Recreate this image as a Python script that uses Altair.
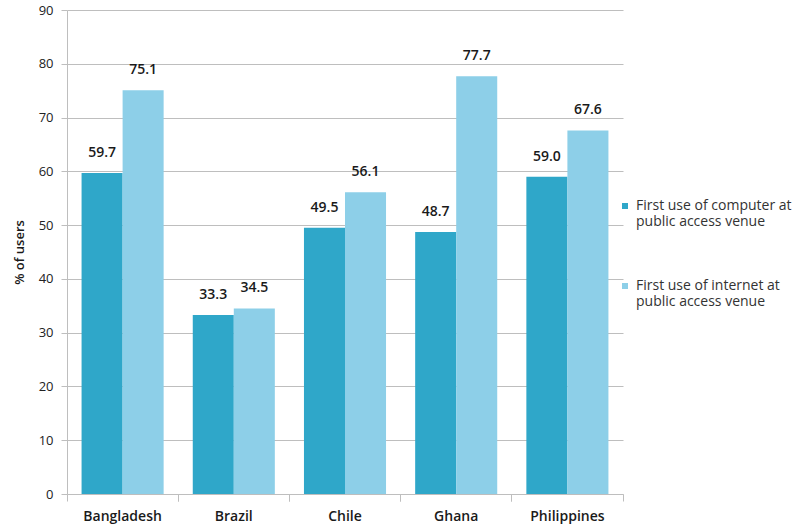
import altair as alt
import pandas as pd

countries = ["Bangladesh", "Brazil", "Chile", "Ghana", "Philippines"]
computer_first = [59.7, 33.3, 49.5, 48.7, 59.0]
internet_first = [75.1, 34.5, 56.1, 77.7, 67.6]
series_names = [
    "First use of computer at public access venue",
    "First use of internet at public access venue",
]
series_colors = ["#2FA7C9", "#8DCFE8"]
y_ticks = [0, 10, 20, 30, 40, 50, 60, 70, 80, 90]

rows = []
for i, c in enumerate(countries):
    rows.append({"country": c, "series": series_names[0], "value": computer_first[i]})
    rows.append({"country": c, "series": series_names[1], "value": internet_first[i]})
df = pd.DataFrame(rows)

FONT = "Open Sans"
GRID = "#BEBEBE"

legend_label = (
    "datum.label == '" + series_names[0] + "' ? "
    "['First use of computer at', 'public access venue'] : "
    "['First use of internet at', 'public access venue']"
)

x_scale = alt.Scale(paddingInner=0, paddingOuter=0)
y_scale = alt.Scale(domain=[0, 90], nice=False)
offset_enc = alt.XOffset(
    "series:N",
    sort=series_names,
    scale=alt.Scale(paddingInner=0, paddingOuter=0.355),
)

# main x axis: labels, domain and ticks at the start of each band
x_main = alt.X(
    "country:N",
    sort=countries,
    scale=x_scale,
    axis=alt.Axis(
        title=None,
        labelAngle=0,
        labelFont=FONT,
        labelFontSize=14,
        labelFontWeight=600,
        labelColor="#1a1a1a",
        labelPadding=8,
        bandPosition=0,
        tickSize=7,
        tickColor=GRID,
        domainColor=GRID,
        grid=False,
    ),
)

# second bottom axis: only ticks, at the end of each band
x_end_ticks = alt.X(
    "country:N",
    sort=countries,
    scale=x_scale,
    axis=alt.Axis(
        title=None,
        orient="bottom",
        labels=False,
        domain=False,
        bandPosition=1,
        tickSize=7,
        tickColor=GRID,
        grid=False,
    ),
)

y_enc = alt.Y(
    "value:Q",
    scale=y_scale,
    axis=alt.Axis(
        title="% of users",
        titleFont=FONT,
        titleFontSize=13,
        titleFontWeight=600,
        titleColor="#1a1a1a",
        titlePadding=12,
        values=y_ticks,
        labelFont=FONT,
        labelFontSize=13,
        labelColor="#222222",
        labelPadding=8,
        tickSize=6,
        tickColor=GRID,
        domainColor=GRID,
        gridColor=GRID,
    ),
)

bars = alt.Chart(df).mark_bar().encode(
    x=x_main,
    xOffset=offset_enc,
    y=y_enc,
    color=alt.Color(
        "series:N",
        sort=series_names,
        scale=alt.Scale(domain=series_names, range=series_colors),
        legend=alt.Legend(
            title=None,
            orient="none",
            legendX=551,
            legendY=189,
            symbolType="square",
            symbolSize=36,
            symbolStrokeWidth=0,
            labelFont=FONT,
            labelFontSize=14,
            labelColor="#333333",
            labelExpr=legend_label,
            labelLimit=300,
            rowPadding=50,
            labelOffset=4,
        ),
    ),
)

labels = alt.Chart(df).mark_text(
    dy=-13, font=FONT, fontSize=14, fontWeight=600, color="#1a1a1a", baseline="bottom"
).encode(
    x=x_end_ticks,
    xOffset=offset_enc,
    y=y_enc,
    text=alt.Text("value:Q", format=".1f"),
)

chart = (
    alt.layer(bars, labels)
    .resolve_axis(x="independent")
    .properties(
        width=556,
        height=484,
        autosize=alt.AutoSizeParams(type="none"),
        padding={"left": 67, "top": 10, "right": 173, "bottom": 35},
        background="white",
    )
    .configure_view(stroke=None)
)

chart.save("out.html", embed_options={"renderer": "svg", "actions": False})
